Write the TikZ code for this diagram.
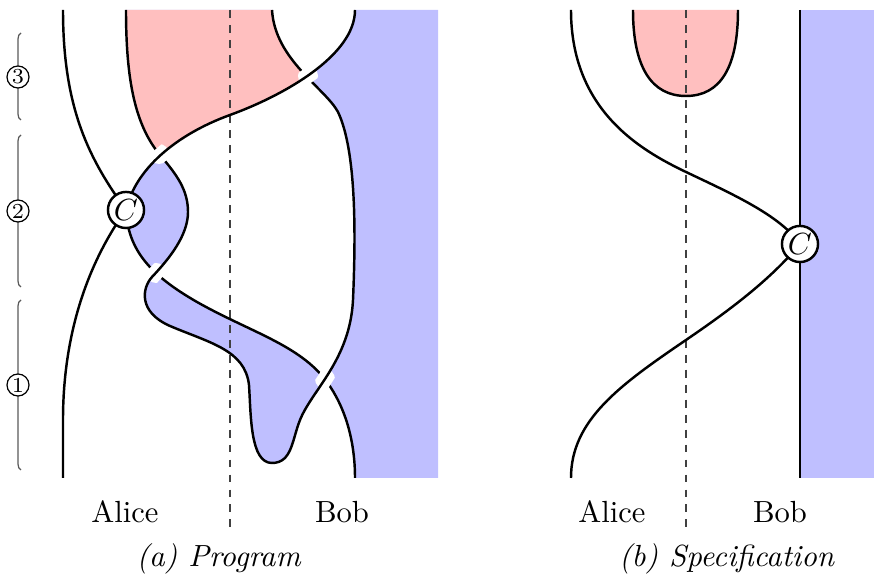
\documentclass[tikz,border=0pt]{standalone}
\usetikzlibrary{decorations.pathreplacing}
\begin{document}
\begin{tikzpicture}[x=0.327pt,y=-0.327pt,
  wire/.style={line width=0.8pt, black},
  halo/.style={line width=5pt, white},
  sep/.style={black!75, line width=0.4pt, dash pattern=on 2.6pt off 2.3pt},
  box/.style={circle, draw, line width=0.8pt, fill=white, minimum size=11.8pt, inner sep=0pt},
  phase/.style={circle, draw, line width=0.4pt, fill=white, minimum size=7.2pt, inner sep=0pt, font=\scriptsize},
  brc/.style={decorate, decoration={brace, amplitude=2pt}, black!65, line width=0.4pt},
  lbl/.style={anchor=base, inner sep=0pt},
  bluefill/.style={fill=blue!25},
  redfill/.style={fill=red!25}]
\useasboundingbox (0,0) rectangle (874,581);

% ---------- named points ----------
\coordinate (c1) at (126,210);
\coordinate (c2) at (800,244);

\def\pathE{(126,10) .. controls (126,80) and (135,125) .. (160,155)
  .. controls (177,175) and (188,190) .. (188,212)
  .. controls (188,235) and (170,258) .. (152,277)
  .. controls (142,288) and (138,312) .. (170,326)
  .. controls (210,343) and (245,350) .. (249,385)
  .. controls (251,415) and (250,463) .. (272,463)
  .. controls (292,463) and (292,440) .. (300,420)
  .. controls (312,390) and (350,360) .. (353,300)
  .. controls (356,230) and (356,150) .. (338,112)
  .. controls (325,88) and (275,60) .. (272,10)}
\def\pathB{(c1) .. controls (135,170) and (175,135) .. (230,115)
  .. controls (285,95) and (355,55) .. (355,10)}
\def\pathD{(c1) .. controls (128,250) and (150,275) .. (197,302)
  .. controls (250,332) and (300,345) .. (327,382)
  .. controls (345,407) and (355,440) .. (355,478)}
\def\pathDr{(355,478) .. controls (355,440) and (345,407) .. (327,382)
  .. controls (300,345) and (250,332) .. (197,302)
  .. controls (150,275) and (128,250) .. (c1)}
\def\pathCup{(633,10) .. controls (633,68) and (652,96) .. (686,96)
  .. controls (720,96) and (738,68) .. (738,10)}

% ---------- fills (a) ----------
\fill[bluefill, even odd rule] \pathE -- cycle
  \pathB -- (438,10) -- (438,478) -- \pathDr -- cycle;
\begin{scope}
  \clip \pathB -- (355,-5) -- (100,-5) -- (100,210) -- cycle;
  \fill[redfill] \pathE -- cycle;
\end{scope}

% ---------- fills (b) ----------
\fill[bluefill] (800,10) rectangle (874,478);
\fill[redfill] \pathCup -- cycle;

% ---------- separators ----------
\draw[sep] (230,10) -- (230,528);
\draw[sep] (686,10) -- (686,528);

% ---------- wires (a) ----------
\draw[wire] (63,10) .. controls (63,110) and (90,160) .. (c1);
\draw[wire] (c1) .. controls (90,260) and (63,330) .. (63,420) -- (63,478);
\draw[wire] \pathD;
\begin{scope}
  \clip (156,273) circle[radius=10] (325,379) circle[radius=10];
  \draw[halo] \pathE;
\end{scope}
\draw[wire] \pathE;
\begin{scope}
  \clip (159,154) circle[radius=10] (308,76) circle[radius=10];
  \draw[halo] \pathB;
\end{scope}
\draw[wire] \pathB;
\node[box] (C1) at (c1) {$C$};

% ---------- wires (b) ----------
\draw[wire] \pathCup;
\draw[wire] (571,10) .. controls (571,110) and (640,150) .. (686,172)
  .. controls (730,193) and (780,215) .. (c2);
\draw[wire] (c2) .. controls (770,280) and (730,310) .. (686,340)
  .. controls (620,385) and (571,420) .. (571,478);
\draw[wire] (800,10) -- (800,478);
\node[box] (C2) at (c2) {$C$};

% ---------- phases ----------
\draw[brc] (21,120) -- (21,33);
\draw[brc] (21,287) -- (21,135);
\draw[brc] (21,470) -- (21,300);
\node[phase] (p3) at (18,77) {3};
\node[phase] (p2) at (18,211) {2};
\node[phase] (p1) at (18,385) {1};

% ---------- labels ----------
\node[lbl] (la) at (125,523) {Alice};
\node[lbl] (lb) at (342,523) {Bob};
\node[lbl] (ra) at (612,523) {Alice};
\node[lbl] (rb) at (780,523) {Bob};
\node[lbl] (capa) at (219,567) {\textit{(a) Program}};
\node[lbl] (capb) at (727,567) {\textit{(b) Specification}};
\end{tikzpicture}
\end{document}
